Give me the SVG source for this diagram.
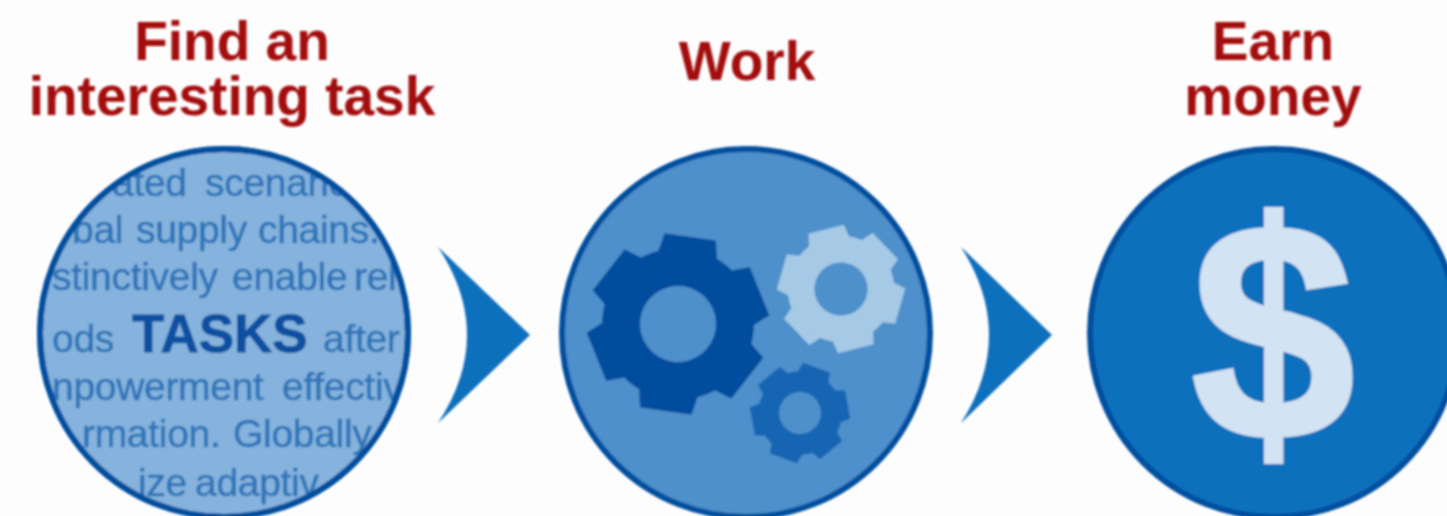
<svg xmlns="http://www.w3.org/2000/svg" xmlns:xlink="http://www.w3.org/1999/xlink" width="1447" height="516" viewBox="0 0 1447 516">
<style>
.title{font:bold 55px "Liberation Sans",Arial,sans-serif;fill:#a30d0d;text-anchor:middle}
.filler{font:39px "Liberation Sans",Arial,sans-serif;fill:#2f74b8;letter-spacing:-.3px;stroke:#2f74b8;stroke-width:.5}
.strong{font:bold 53px "Liberation Sans",Arial,sans-serif;fill:#0a50a0;stroke:#0a50a0;stroke-width:.8}
.dollar{font:bold 310px "Liberation Sans",Arial,sans-serif;fill:#d2e3f3;stroke:#d2e3f3;stroke-width:4;text-anchor:middle}
.ring{stroke:#02509f;stroke-width:6}
.arrow{fill:#0f6fbd}
.hole{fill:#4e90cb}
</style>
<defs>
<filter id="soft" x="-5%" y="-5%" width="110%" height="110%"><feGaussianBlur stdDeviation="1"/></filter>
<clipPath id="lens"><circle cx="224" cy="333" r="184"/></clipPath>
<polygon id="tooth" points="-30,-68 -26,-88 26,-88 30,-68"/>
<g id="gear">
<circle r="76"/>
<use xlink:href="#tooth"/><use xlink:href="#tooth" transform="rotate(60)"/><use xlink:href="#tooth" transform="rotate(120)"/><use xlink:href="#tooth" transform="rotate(180)"/><use xlink:href="#tooth" transform="rotate(240)"/><use xlink:href="#tooth" transform="rotate(300)"/>
<circle class="hole" r="38"/>
</g>
</defs>
<rect width="1447" height="516" fill="#fdfdfe"/>
<g filter="url(#soft)">
<g id="connectors">
<path class="arrow" d="M438 247L530 335L438 423Q496 335 438 247Z"/>
<path class="arrow" d="M961 247L1052 335L961 423Q1017 335 961 247Z"/>
</g>
<g id="node-find">
<text class="title"><tspan x="232" y="60">Find an</tspan><tspan x="232" y="115">interesting task</tspan></text>
<circle class="ring" cx="224" cy="333" r="184" fill="#85b3dd"/>
<g clip-path="url(#lens)">
<text class="filler" x="112" y="196">ated <tspan x="205">scenario</tspan></text>
<text class="filler" x="72" y="243">bal <tspan x="136">supply</tspan> <tspan x="258">chains.</tspan></text>
<text class="filler" x="52" y="290">stinctively <tspan x="232">enable</tspan> <tspan x="354">rel</tspan></text>
<text class="filler" x="52" y="352">ods</text>
<text class="strong" x="132" y="352">TASKS</text>
<text class="filler" x="323" y="352">after</text>
<text class="filler" x="52" y="400">npowerment <tspan x="282">effectiv</tspan></text>
<text class="filler" x="82" y="447">rmation. <tspan x="233">Globally</tspan></text>
<text class="filler" x="138" y="496">ize <tspan x="195">adaptiv</tspan></text>
</g>
<circle class="ring" cx="224" cy="333" r="184" fill="none"/>
</g>
<g id="node-work">
<text class="title" x="747" y="80">Work</text>
<circle class="ring" cx="746" cy="333" r="184" fill="#4e90cb"/>
<use xlink:href="#gear" fill="#024d9e" transform="translate(678 324) rotate(8)"/>
<use xlink:href="#gear" fill="#a6c9e5" transform="translate(841 289) rotate(-14) scale(.7)"/>
<use xlink:href="#gear" fill="#1465b2" transform="translate(800 413) rotate(20) scale(.55)"/>
</g>
<g id="node-earn">
<text class="title"><tspan x="1273" y="60">Earn</tspan><tspan x="1273" y="115">money</tspan></text>
<circle class="ring" cx="1274" cy="333" r="184" fill="#0a6fbd"/>
<text class="dollar" transform="translate(1273 439) scale(.95 1)">$</text>
</g>
</g>
</svg>
